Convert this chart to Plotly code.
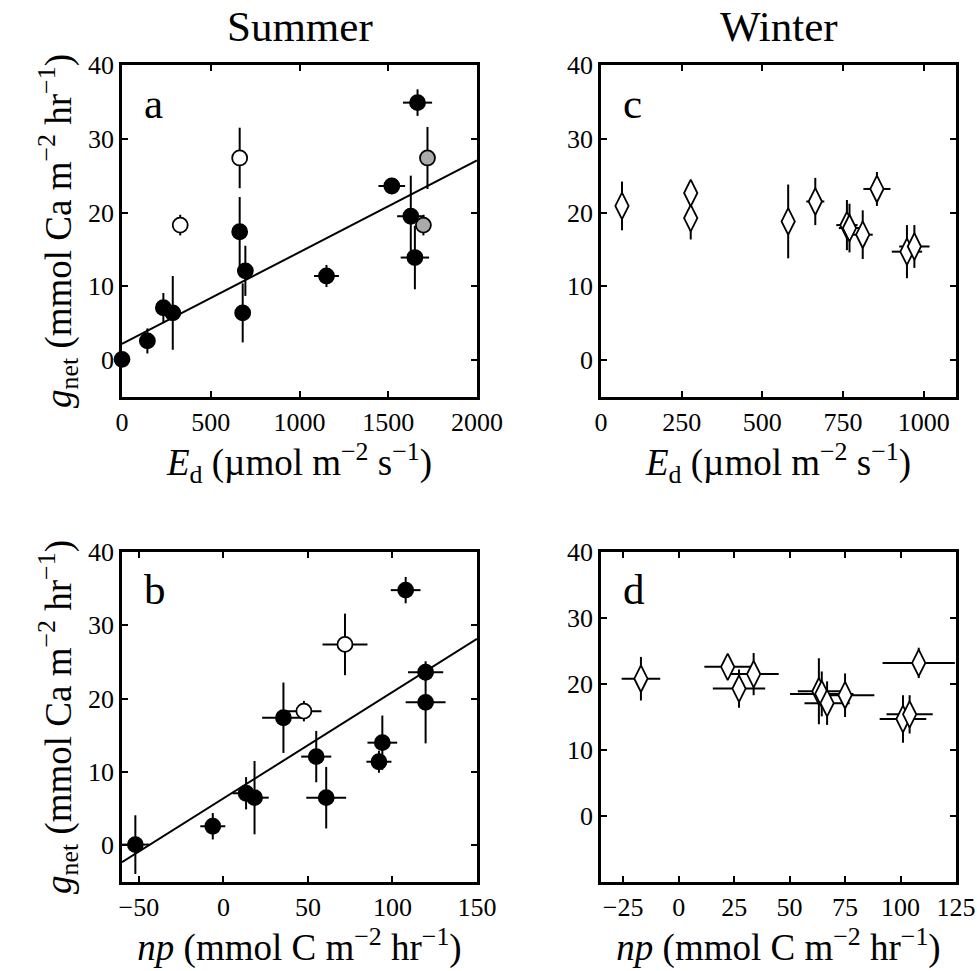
import plotly.graph_objects as go

W, H = 977, 971
FONT = "Liberation Serif"

# ---------------- Summer, panel a: g_net vs E_d ----------------
a_fill_x = [0, 143, 233, 286, 663, 695, 680, 1152, 1520, 1665, 1627, 1650]
a_fill_y = [0.1, 2.6, 7.1, 6.4, 17.4, 12.1, 6.4, 11.4, 23.6, 34.9, 19.5, 13.9]
a_fill_ex = [0, 0, 0, 0, 0, 0, 0, 70, 75, 82, 77, 80]
a_fill_ey = [0, 1.7, 2.0, 5.0, 4.7, 3.4, 4.0, 1.5, 1.1, 1.8, 5.5, 4.3]
a_open_x = [328, 663]
a_open_y = [18.3, 27.4]
a_open_ex = [0, 0]
a_open_ey = [1.4, 4.1]
a_grey_x = [1721, 1698]
a_grey_y = [27.4, 18.3]
a_grey_ex = [0, 0]
a_grey_ey = [4.2, 1.4]
a_fit = [2.2, 0.01243]   # intercept, slope

# ---------------- Summer, panel b: g_net vs np ----------------
b_fill_x = [-52.1, -6.3, 13.4, 18.4, 35.5, 54.9, 60.8, 92.0, 94.0, 107.8, 119.6, 119.6]
b_fill_y = [0.1, 2.6, 7.1, 6.5, 17.4, 12.1, 6.5, 11.4, 14.0, 34.8, 23.6, 19.5]
b_fill_ex = [8.3, 7.4, 8.0, 8.4, 12.6, 8.9, 11.8, 7.4, 8.8, 8.8, 10.4, 11.8]
b_fill_ey = [4.0, 1.8, 2.2, 5.0, 4.8, 3.5, 4.2, 1.5, 3.7, 1.8, 1.2, 5.6]
b_open_x = [47.6, 71.9]
b_open_y = [18.3, 27.4]
b_open_ex = [10.4, 13.3]
b_open_ey = [1.4, 4.2]
b_fit = [6.4, 0.145]

# ---------------- Winter, panel c: g_net vs E_d ----------------
c_x = [65, 278, 278, 580, 664, 762, 770, 811, 855, 948, 971]
c_y = [20.9, 22.65, 19.25, 18.8, 21.5, 18.3, 17.9, 17.0, 23.2, 14.7, 15.4]
c_ex = [0, 0, 0, 0, 28, 33, 33, 31, 42, 47, 47]
c_ey = [3.3, 1.0, 2.9, 5.0, 3.2, 3.4, 3.3, 3.3, 2.3, 3.6, 2.9]

# ---------------- Winter, panel d: g_net vs np ----------------
d_x = [-17.0, 22.1, 27.2, 33.8, 63.2, 64.5, 66.9, 75.0, 101.1, 104.1, 108.2]
d_y = [20.8, 22.6, 19.3, 21.5, 18.9, 18.5, 17.1, 18.3, 14.7, 15.4, 23.2]
d_ex = [8.7, 10.5, 11.8, 11.3, 9.5, 14.3, 10.2, 13.2, 10.5, 10.4, 16.3]
d_ey = [3.3, 1.0, 2.9, 3.2, 5.0, 3.4, 3.3, 3.3, 3.6, 2.9, 2.3]

# axis settings per panel: (x range, x ticks, y range)
a_xrange, a_xticks = [0, 2000], [0, 500, 1000, 1500, 2000]
b_xrange, b_xticks = [-60, 150], [-50, 0, 50, 100, 150]
c_xrange, c_xticks = [0, 1100], [0, 250, 500, 750, 1000]
d_xrange, d_xticks = [-35, 125], [-25, 0, 25, 50, 75, 100, 125]
y_ticks = [0, 10, 20, 30, 40]
ab_yrange = [-5, 40]
c_yrange = [-5, 40]
d_yrange = [-10, 40]

# panel boxes in pixels (left, right, top, bottom)
BOX = {
    "a": (122, 477, 65, 397),
    "c": (601, 956, 65, 397),
    "b": (122, 477, 552, 882),
    "d": (601, 956, 552, 882),
}
AXES = {"a": ("x", "y"), "c": ("x2", "y2"), "b": ("x3", "y3"), "d": ("x4", "y4")}


def dom_x(k):
    l, r, _, _ = BOX[k]
    return [l / W, r / W]


def dom_y(k):
    _, _, t, b = BOX[k]
    return [1 - b / H, 1 - t / H]


def points(k, x, y, ex, ey, symbol, fill, size):
    xa, ya = AXES[k]
    return go.Scatter(
        x=x, y=y, mode="markers", xaxis=xa, yaxis=ya, showlegend=False,
        cliponaxis=False,
        marker=dict(symbol=symbol, size=size, color=fill,
                    line=dict(color="black", width=1.8)),
        error_x=dict(type="data", array=ex, visible=True, color="black",
                     thickness=2, width=0),
        error_y=dict(type="data", array=ey, visible=True, color="black",
                     thickness=2, width=0),
    )


def fit_line(k, fit, xr):
    xa, ya = AXES[k]
    xs = list(xr)
    ys = [fit[0] + fit[1] * v for v in xs]
    return go.Scatter(x=xs, y=ys, mode="lines", xaxis=xa, yaxis=ya,
                      showlegend=False, line=dict(color="black", width=2))


fig = go.Figure()
fig.add_trace(fit_line("a", a_fit, a_xrange))
fig.add_trace(points("a", a_fill_x, a_fill_y, a_fill_ex, a_fill_ey, "circle", "black", 15))
fig.add_trace(points("a", a_open_x, a_open_y, a_open_ex, a_open_ey, "circle", "white", 15))
fig.add_trace(points("a", a_grey_x, a_grey_y, a_grey_ex, a_grey_ey, "circle", "#aaaaaa", 15))

fig.add_trace(fit_line("b", b_fit, b_xrange))
fig.add_trace(points("b", b_fill_x, b_fill_y, b_fill_ex, b_fill_ey, "circle", "black", 15))
fig.add_trace(points("b", b_open_x, b_open_y, b_open_ex, b_open_ey, "circle", "white", 15))

fig.add_trace(points("c", c_x, c_y, c_ex, c_ey, "diamond-tall", "white", 19))
fig.add_trace(points("d", d_x, d_y, d_ex, d_ey, "diamond-tall", "white", 19))

tick_font = dict(family=FONT, size=26, color="black")
title_font = dict(family=FONT, size=37, color="black")

ed_title = "<i>E</i><sub>d</sub> (µmol m<sup>−2</sup> s<sup>−1</sup>)"
np_title = "<i>np</i> (mmol C m<sup>−2</sup> hr<sup>−1</sup>)"
g_title = "<i>g</i><sub>net</sub> (mmol Ca m<sup>−2</sup> hr<sup>−1</sup>)"


def xaxis(k, rng, ticks, title):
    return dict(
        domain=dom_x(k), range=rng, anchor=AXES[k][1],
        tickmode="array", tickvals=ticks,
        showline=True, linewidth=2.5, linecolor="black", mirror="ticks",
        ticks="inside", ticklen=6, tickwidth=1.5, tickcolor="black",
        showgrid=False, zeroline=False, tickfont=tick_font,
        title=dict(text=title, font=title_font, standoff=2),
        automargin=False,
    )


def yaxis(k, rng, title):
    return dict(
        domain=dom_y(k), range=rng, anchor=AXES[k][0],
        tickmode="array", tickvals=y_ticks,
        showline=True, linewidth=2.5, linecolor="black", mirror="ticks",
        ticks="inside", ticklen=6, tickwidth=1.5, tickcolor="black",
        showgrid=False, zeroline=False, tickfont=tick_font,
        title=dict(text=title, font=title_font, standoff=6),
        automargin=False,
    )


fig.update_layout(
    width=W, height=H,
    margin=dict(l=0, r=0, t=0, b=0),
    paper_bgcolor="white", plot_bgcolor="white",
    xaxis=xaxis("a", a_xrange, a_xticks, ed_title),
    yaxis=yaxis("a", ab_yrange, g_title),
    xaxis2=xaxis("c", c_xrange, c_xticks, ed_title),
    yaxis2=yaxis("c", c_yrange, ""),
    xaxis3=xaxis("b", b_xrange, b_xticks, np_title),
    yaxis3=yaxis("b", ab_yrange, g_title),
    xaxis4=xaxis("d", d_xrange, d_xticks, np_title),
    yaxis4=yaxis("d", d_yrange, ""),
)

# column headings
for label, k in (("Summer", "a"), ("Winter", "c")):
    l, r, _, _ = BOX[k]
    fig.add_annotation(text=label, x=(l + r) / 2 / W, y=1 - 26 / H,
                       xref="paper", yref="paper", showarrow=False,
                       xanchor="center", yanchor="middle",
                       font=dict(family=FONT, size=43, color="black"))

# panel letters
for k in ("a", "b", "c", "d"):
    xa, ya = AXES[k]
    fig.add_annotation(text=k, x=0.055, y=0.885,
                       xref=f"{xa} domain", yref=f"{ya} domain",
                       showarrow=False, xanchor="left", yanchor="middle",
                       font=dict(family=FONT, size=43, color="black"))

fig.write_html("out.html")
